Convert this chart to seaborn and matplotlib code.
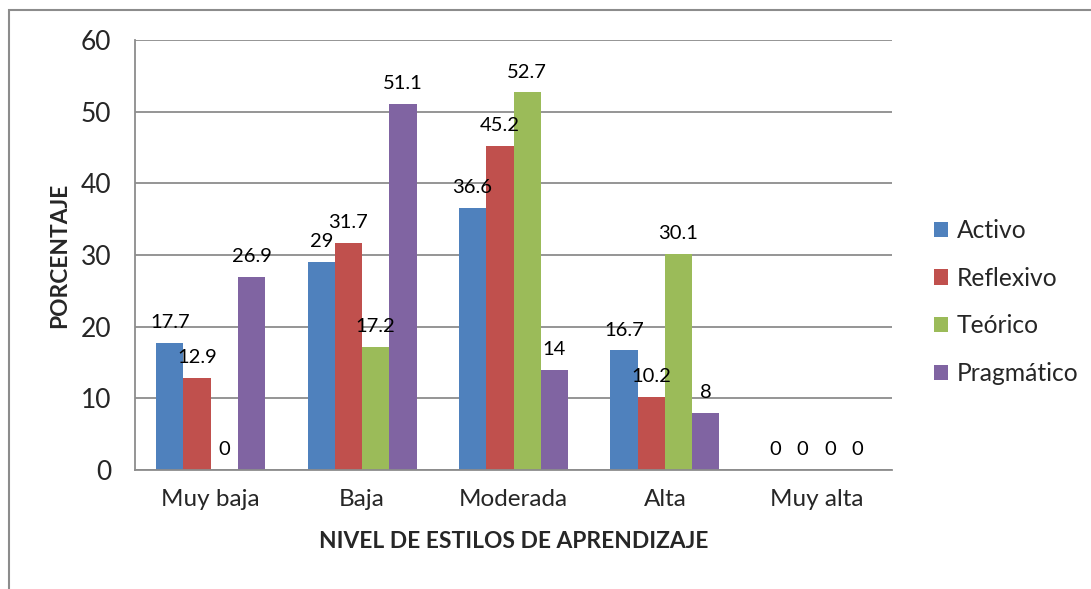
import matplotlib
matplotlib.use("Agg")
import matplotlib.pyplot as plt
from matplotlib.patches import Rectangle, Patch
import seaborn as sns
import pandas as pd

categorias = ["Muy baja", "Baja", "Moderada", "Alta", "Muy alta"]
estilos = ["Activo", "Reflexivo", "Teórico", "Pragmático"]
activo = [17.7, 29, 36.6, 16.7, 0]
reflexivo = [12.9, 31.7, 45.2, 10.2, 0]
teorico = [0, 17.2, 52.7, 30.1, 0]
pragmatico = [26.9, 51.1, 14, 8, 0]
colores = ["#4F81BD", "#C0504D", "#9BBB59", "#8064A2"]

df = pd.DataFrame({
    "nivel": categorias * 4,
    "estilo": [e for e in estilos for _ in categorias],
    "pct": activo + reflexivo + teorico + pragmatico,
})

sns.set_style("white")
plt.rcParams["font.family"] = ["Lato", "DejaVu Sans"]

fig = plt.figure(figsize=(10.91, 5.89), dpi=100)
ax = fig.add_axes([135 / 1091, 1 - 470 / 589, (892 - 135) / 1091, 430 / 589])

sns.barplot(data=df, x="nivel", y="pct", hue="estilo", order=categorias,
            hue_order=estilos, palette=colores, width=0.72, gap=0,
            saturation=1, edgecolor="none", legend=False, ax=ax)

for cont in ax.containers:
    ax.bar_label(cont, fmt="{:g}", padding=8.5, fontsize=14.5, color="black")

ax.set_ylim(0, 60)
ax.set_yticks(range(0, 61, 10))
ax.set_xlim(-0.5, 4.5)
ax.yaxis.grid(True, color="#8c8c8c", linewidth=1.3)
ax.set_axisbelow(True)
for side in ["top", "right"]:
    ax.spines[side].set_visible(False)
for side in ["left", "bottom"]:
    ax.spines[side].set_color("#8c8c8c")
    ax.spines[side].set_linewidth(1.3)
ax.tick_params(axis="y", length=6, width=1.3, color="#8c8c8c", pad=11, labelsize=19)
ax.tick_params(axis="x", length=0, pad=14, labelsize=17.5)

ax.set_xlabel("NIVEL DE ESTILOS DE APRENDIZAJE", fontsize=16.4, fontweight="bold", labelpad=15)
ax.set_ylabel("PORCENTAJE", fontsize=16.4, fontweight="bold", labelpad=8)

handles = [Patch(facecolor=c, edgecolor="none") for c in colores]
fig.legend(handles, estilos, loc="center left", bbox_to_anchor=(934 / 1091, 1 - 302 / 589),
           frameon=False, fontsize=17.7, handlelength=0.57, handleheight=0.57,
           handletextpad=0.37, labelspacing=1.0, borderpad=0, borderaxespad=0)

fig.patches.append(Rectangle((9 / 1091, -0.1), 1.2, 1.1 - 10 / 589, transform=fig.transFigure,
                             fill=False, edgecolor="#8c8c8c", linewidth=1.5))

fig.savefig("out.png", dpi=100, facecolor="white")
